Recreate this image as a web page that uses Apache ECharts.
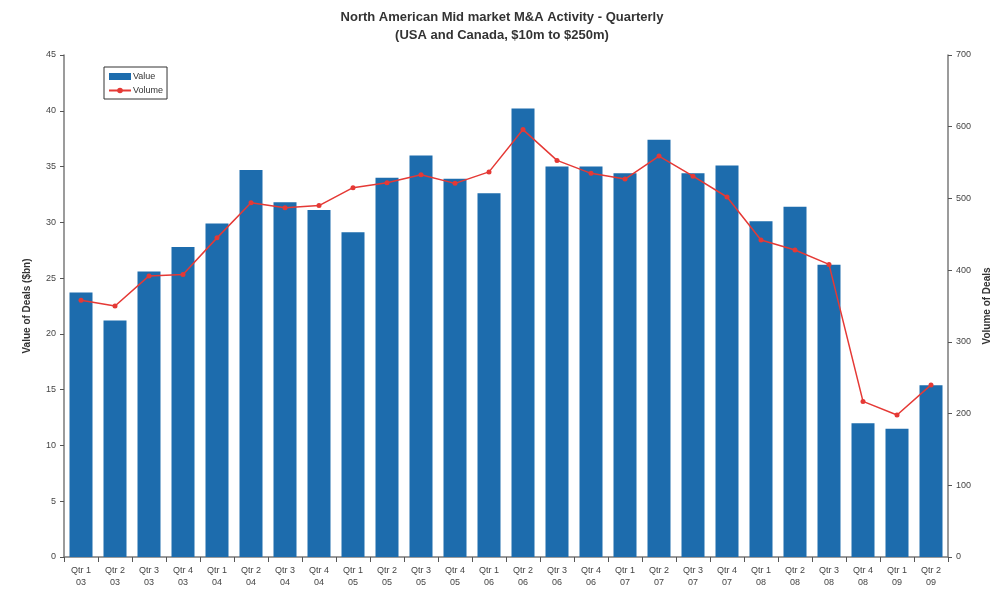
<!DOCTYPE html>
<html>
<head>
<meta charset="utf-8">
<script src="https://cdn.jsdelivr.net/npm/echarts@6/dist/echarts.min.js"></script>
<style>
  html, body { margin: 0; padding: 0; background: #fff; }
  #chart { width: 1004px; height: 595px; }
</style>
</head>
<body>
<div id="chart"></div>
<script>
// Quarterly North American mid-market deal activity, Q1 2003 – Q2 2009
const quarters = [
  'Qtr 1\n03', 'Qtr 2\n03', 'Qtr 3\n03', 'Qtr 4\n03',
  'Qtr 1\n04', 'Qtr 2\n04', 'Qtr 3\n04', 'Qtr 4\n04',
  'Qtr 1\n05', 'Qtr 2\n05', 'Qtr 3\n05', 'Qtr 4\n05',
  'Qtr 1\n06', 'Qtr 2\n06', 'Qtr 3\n06', 'Qtr 4\n06',
  'Qtr 1\n07', 'Qtr 2\n07', 'Qtr 3\n07', 'Qtr 4\n07',
  'Qtr 1\n08', 'Qtr 2\n08', 'Qtr 3\n08', 'Qtr 4\n08',
  'Qtr 1\n09', 'Qtr 2\n09'
];

// Deal value, $bn (left axis)
const dealValue = [
  23.7, 21.2, 25.6, 27.8,
  29.9, 34.7, 31.8, 31.1,
  29.1, 34.0, 36.0, 33.9,
  32.6, 40.2, 35.0, 35.0,
  34.4, 37.4, 34.4, 35.1,
  30.1, 31.4, 26.2, 12.0,
  11.5, 15.4
];

// Number of deals (right axis)
const dealVolume = [
  358, 350, 392, 394,
  445, 494, 487, 490,
  515, 522, 533, 521,
  537, 596, 553, 535,
  527, 559, 531, 502,
  442, 428, 408, 217,
  198, 240
];

const valueTicks = { min: 0, max: 45, interval: 5 };
const volumeTicks = { min: 0, max: 700, interval: 100 };

const FONT = '"Liberation Sans", Arial, sans-serif';
const axisGray = '#7a7a7a';
const labelGray = '#444';

const chart = echarts.init(document.getElementById('chart'), null, { renderer: 'canvas' });

chart.setOption({
  animation: false,
  backgroundColor: '#ffffff',
  textStyle: { fontFamily: FONT },
  title: {
    text: 'North American Mid market M&A Activity - Quarterly\n(USA and Canada, $10m to $250m)',
    left: 'center',
    top: 3,
    textStyle: {
      fontFamily: FONT,
      fontSize: 13,
      fontWeight: 'bold',
      color: '#333',
      lineHeight: 18
    }
  },
  legend: {
    left: 104,
    top: 67,
    orient: 'vertical',
    itemGap: 5,
    itemWidth: 22,
    itemHeight: 7,
    padding: [5, 4, 4, 4],
    borderColor: '#333',
    borderWidth: 1,
    textStyle: { fontFamily: FONT, fontSize: 9, color: '#333', padding: [0, 0, 0, -3] },
    data: [
      { name: 'Value', icon: 'rect' },
      { name: 'Volume' }
    ]
  },
  grid: { left: 64, right: 56, top: 55, bottom: 38 },
  xAxis: {
    type: 'category',
    data: quarters,
    boundaryGap: true,
    axisLine: { lineStyle: { color: axisGray, width: 1.5 } },
    axisTick: { show: true, length: 5, lineStyle: { color: '#555' } },
    axisLabel: {
      interval: 0,
      fontFamily: FONT,
      fontSize: 9,
      color: labelGray,
      lineHeight: 12,
      margin: 8
    }
  },
  yAxis: [
    {
      type: 'value',
      name: 'Value of Deals ($bn)',
      nameLocation: 'middle',
      nameGap: 32,
      nameTextStyle: { fontFamily: FONT, fontSize: 10, fontWeight: 'bold', color: '#333' },
      min: valueTicks.min,
      max: valueTicks.max,
      interval: valueTicks.interval,
      axisLine: { show: true, lineStyle: { color: axisGray, width: 1.5 } },
      axisTick: { show: true, length: 4, lineStyle: { color: '#555' } },
      axisLabel: { fontFamily: FONT, fontSize: 9, color: labelGray, margin: 8 },
      splitLine: { show: false }
    },
    {
      type: 'value',
      name: 'Volume of Deals',
      nameLocation: 'middle',
      nameGap: 33,
      nameRotate: 90,
      nameTextStyle: { fontFamily: FONT, fontSize: 10, fontWeight: 'bold', color: '#333' },
      min: volumeTicks.min,
      max: volumeTicks.max,
      interval: volumeTicks.interval,
      position: 'right',
      axisLine: { show: true, lineStyle: { color: axisGray, width: 1.5 } },
      axisTick: { show: true, length: 4, lineStyle: { color: '#555' } },
      axisLabel: { fontFamily: FONT, fontSize: 9, color: labelGray, margin: 8 },
      splitLine: { show: false }
    }
  ],
  series: [
    {
      name: 'Value',
      type: 'bar',
      yAxisIndex: 0,
      data: dealValue,
      barWidth: 23,
      itemStyle: { color: '#1d6cad' }
    },
    {
      name: 'Volume',
      type: 'line',
      yAxisIndex: 1,
      data: dealVolume,
      symbol: 'circle',
      symbolSize: 5,
      lineStyle: { color: '#e53935', width: 1.5 },
      itemStyle: { color: '#e53935' }
    }
  ]
});
</script>
</body>
</html>
